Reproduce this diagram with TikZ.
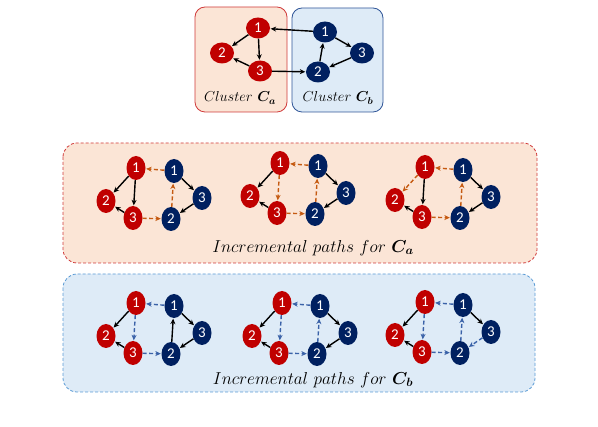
\documentclass[tikz,border=0pt]{standalone}
\usepackage{amsmath}
\usepackage{fontspec}
\newfontfamily\numfont{Carlito}
\usetikzlibrary{shapes.geometric,arrows.meta}
\definecolor{nred}{HTML}{C00000}
\definecolor{nblue}{HTML}{002060}
\definecolor{porange}{HTML}{C55A11}
\definecolor{pblue}{HTML}{3A62A8}
\definecolor{peach}{HTML}{FBE5D6}
\definecolor{lblue}{HTML}{DEEBF7}
\definecolor{bred}{HTML}{D03A3A}
\definecolor{bblue}{HTML}{2F5597}
\definecolor{dblue}{HTML}{5B9BD5}
\tikzset{
  rn/.style={ellipse,fill=nred,text=white,minimum width=19pt,minimum height=24pt,inner sep=0pt,font=\numfont\fontsize{15}{15}\selectfont},
  bn/.style={rn,fill=nblue},
  trn/.style={rn,minimum width=24pt,minimum height=21pt},
  tbn/.style={trn,fill=nblue},
  ed/.style={-{Stealth[length=5.5pt,width=5pt]},line width=1.4pt,black,shorten >=0.5pt},
  oe/.style={ed,porange,dash pattern=on 4pt off 2.5pt},
  be/.style={ed,pblue,dash pattern=on 4pt off 2.5pt},
  lab/.style={font=\fontsize{14}{14}\selectfont},
  plab/.style={font=\fontsize{18}{18}\selectfont},
}
\newcommand\mygraph[8]{%
  \begin{scope}[shift={#2}]
    \node[rn] (#1a1) at (0,0) {1};
    \node[rn] (#1a2) at (-30,33) {2};
    \node[rn] (#1a3) at (-3,50) {3};
    \node[bn] (#1b1) at (38,3) {1};
    \node[bn] (#1b3) at (66,30) {3};
    \node[bn] (#1b2) at (35,51) {2};
    \draw[#3] (#1a1) -- (#1a2);
    \draw[#4] (#1a1) -- (#1a3);
    \draw[ed] (#1a3) -- (#1a2);
    \draw[#5] (#1b1) -- (#1a1);
    \draw[#6] (#1a3) -- (#1b2);
    \draw[#7] (#1b2) -- (#1b1);
    \draw[ed] (#1b1) -- (#1b3);
    \draw[#8] (#1b3) -- (#1b2);
  \end{scope}}
\begin{document}
\begin{tikzpicture}[x=1pt,y=-1pt]
\useasboundingbox (0,0) rectangle (598,427);
% top clusters
\draw[bred,fill=peach,line width=0.8pt,rounded corners=10pt] (195,7) rectangle (287,112);
\draw[bblue,fill=lblue,line width=0.8pt,rounded corners=10pt] (292,8) rectangle (383,112);
\node[lab] (lca) at (240,98) {$Cluster\ \boldsymbol{C_a}$};
\node[lab] (lcb) at (338,98) {$Cluster\ \boldsymbol{C_b}$};
\node[trn] (ta1) at (258,28) {1};
\node[trn] (ta2) at (222,53) {2};
\node[trn] (ta3) at (260,71) {3};
\node[tbn] (tb1) at (325,32) {1};
\node[tbn] (tb3) at (362,53) {3};
\node[tbn] (tb2) at (318,72) {2};
\draw[ed] (ta1) -- (ta2);
\draw[ed] (ta1) -- (ta3);
\draw[ed] (ta3) -- (ta2);
\draw[ed] (tb1) -- (ta1);
\draw[ed] (ta3) -- (tb2);
\draw[ed] (tb1) -- (tb3);
\draw[ed] (tb3) -- (tb2);
\draw[ed] (tb2) -- (tb1);
% middle panel
\draw[bred,fill=peach,line width=0.8pt,dash pattern=on 3pt off 2pt,rounded corners=14pt] (63,143) rectangle (537,263);
\node[plab] (lpa) at (313,248) {$Incremental\ paths\ for\ \boldsymbol{C_a}$};
\mygraph{m1}{(136,168)}{ed}{ed}{oe}{oe}{oe}{ed}
\mygraph{m2}{(280,163)}{ed}{oe}{oe}{oe}{oe}{ed}
\mygraph{m3}{(425,167)}{oe}{ed}{oe}{oe}{oe}{ed}
% bottom panel
\draw[dblue,fill=lblue,line width=0.8pt,dash pattern=on 3pt off 2pt,rounded corners=14pt] (63,274) rectangle (535,392);
\node[plab] (lpb) at (313,380) {$Incremental\ paths\ for\ \boldsymbol{C_b}$};
\mygraph{b1}{(136,303)}{ed}{be}{be}{be}{ed}{ed}
\mygraph{b2}{(282,303)}{ed}{be}{be}{be}{be}{ed}
\mygraph{b3}{(425,302)}{ed}{be}{be}{be}{be}{be}
\end{tikzpicture}
\end{document}
